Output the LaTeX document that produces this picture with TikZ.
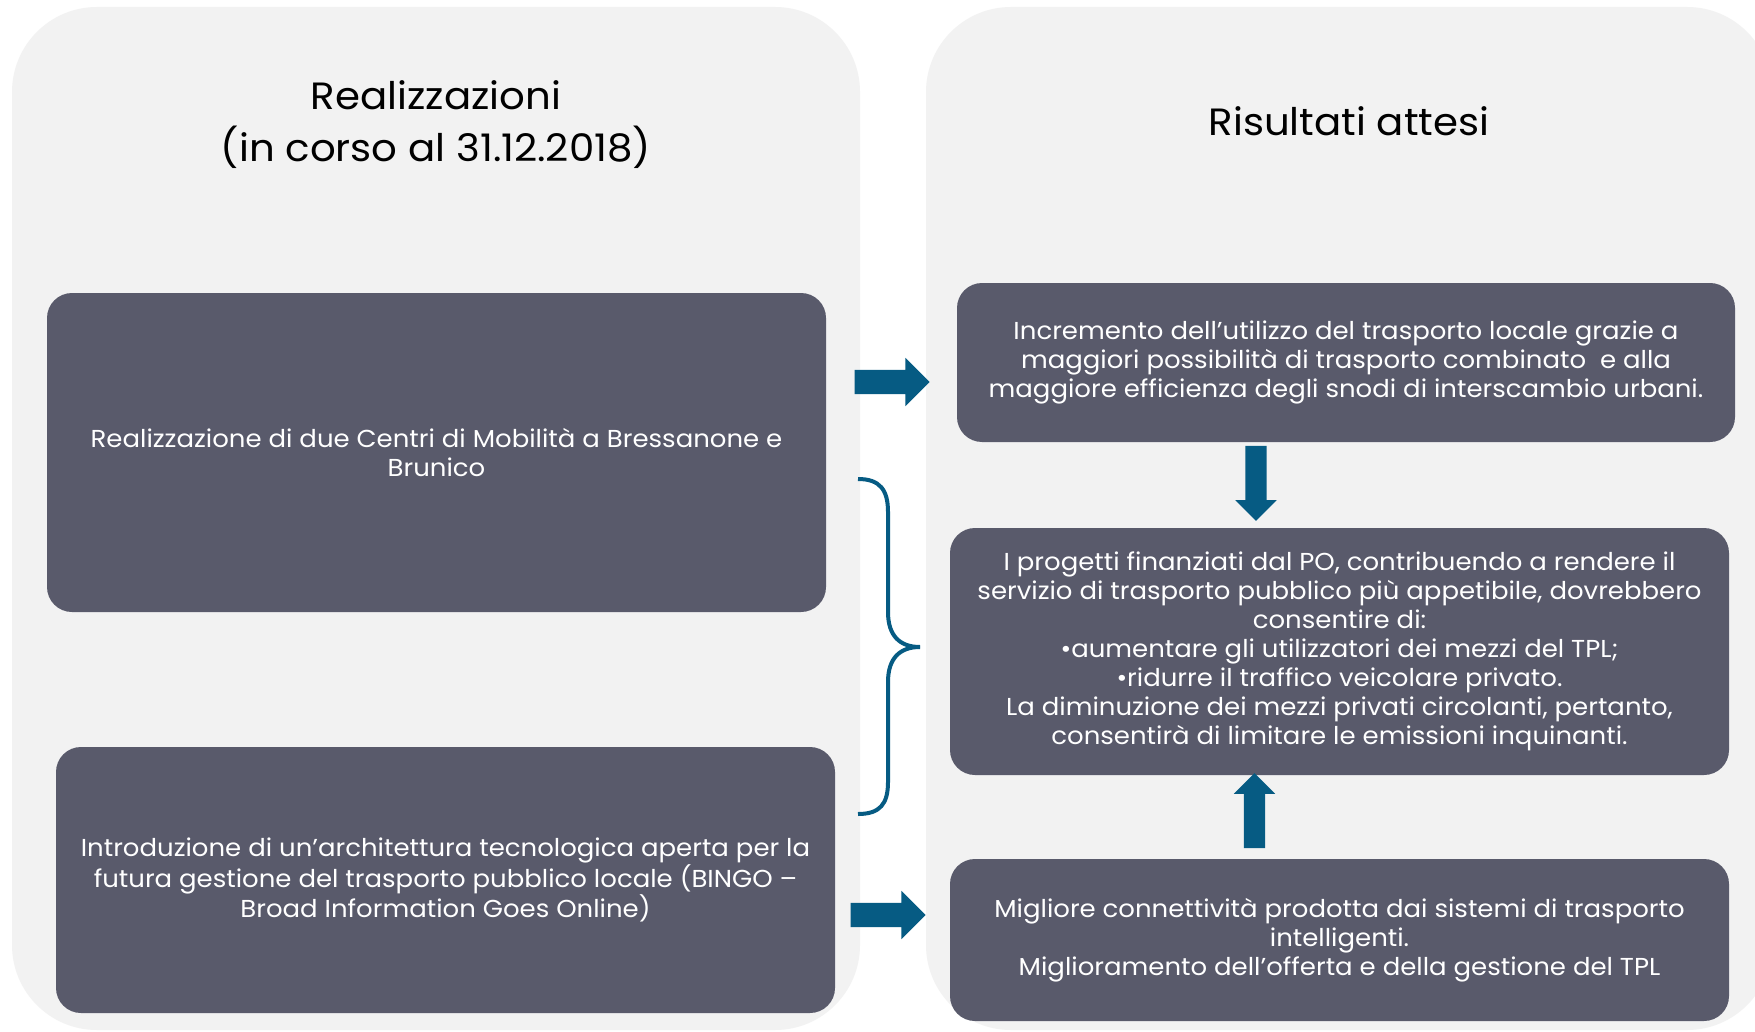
\documentclass[tikz,border=0pt]{standalone}
\usepackage{fontspec}
\setmainfont{Poppins}[FakeStretch=1.06]
\usepackage{tikz}
\usetikzlibrary{shapes}
\usetikzlibrary{shapes.arrows}
\definecolor{panelgrey}{HTML}{F2F2F2}
\definecolor{boxslate}{RGB}{89,90,107}
\definecolor{arrowblue}{RGB}{6,91,131}

\begin{document}
\begin{tikzpicture}[x=1pt, y=-1pt,
  panel/.style={fill=panelgrey, rounded corners=85pt},
  box/.style={fill=boxslate, rounded corners=25pt, text=white, align=center, minimum width=779pt, inner sep=0pt, font=\fontsize{24.5}{29}\selectfont},
  title/.style={align=center, font=\fontsize{38}{52}\selectfont},
  blockarrow/.style={single arrow, fill=arrowblue, minimum height=75pt, single arrow head extend=12pt, inner sep=0pt, inner ysep=12pt},
  thinarrow/.style={blockarrow, single arrow head extend=10pt, inner ysep=10.5pt}]
 \useasboundingbox (0,0) rectangle (1755,1032);
 \fill[white] (0,0) rectangle (1755,1032);
 \fill[panel] (12,7) rectangle (860,1030);
 \fill[panel] (926,7) rectangle (1772,1030);
  \node[title] (lefttitle) at (436,125) {Realizzazioni\\(in corso al 31.12.2018)};
  \node[title] (righttitle) at (1349,121) {Risultati attesi};
  \node[box, minimum height=319pt] (mobilita) at (436.5,452.5) {Realizzazione di due Centri di Mobilità a Bressanone e\\Brunico};
  \node[box, minimum height=266pt] (bingo) at (445.5,880) {Introduzione di un’architettura tecnologica aperta per la\\futura gestione del trasporto pubblico locale (BINGO –\\Broad Information Goes Online)};
  \node[box, minimum height=159pt, minimum width=778pt] (incremento) at (1346,362.5) {Incremento dell’utilizzo del trasporto locale grazie a\\maggiori possibilità di trasporto combinato\ \ e alla\\maggiore efficienza degli snodi di interscambio urbani.};
  \node[box, minimum height=247pt] (progetti) at (1339.5,651.5) {I progetti finanziati dal PO, contribuendo a rendere il\\servizio di trasporto pubblico più appetibile, dovrebbero\\consentire di:\\•aumentare gli utilizzatori dei mezzi del TPL;\\•ridurre il traffico veicolare privato.\\La diminuzione dei mezzi privati circolanti, pertanto,\\consentirà di limitare le emissioni inquinanti.};
  \node[box, minimum height=162pt] (connettivita) at (1339.5,940) {Migliore connettività prodotta dai sistemi di trasporto\\intelligenti.\\Miglioramento dell’offerta e della gestione del TPL};
  \node[blockarrow] (toincremento) at (886,382) {};
  \node[blockarrow] (toconnettivita) at (882,915) {};
  \node[thinarrow, rotate=-90] (down) at (1256,478) {};
  \node[thinarrow, rotate=90] (up) at (1254.5,816) {};
  \coordinate (bracetop) at (858,479);
  \coordinate (bracetip) at (920,647);
  \coordinate (bracebot) at (858,814);
  \draw[arrowblue, line width=4pt] (bracetop) .. controls (880,479) and (888,490) .. (888,512) -- (888,612) .. controls (888,636) and (900,647) .. (bracetip);
  \draw[arrowblue, line width=4pt] (bracetip) .. controls (900,647) and (888,658) .. (888,682) -- (888,782) .. controls (888,804) and (880,814) .. (bracebot);
 \end{tikzpicture}
\end{document}
